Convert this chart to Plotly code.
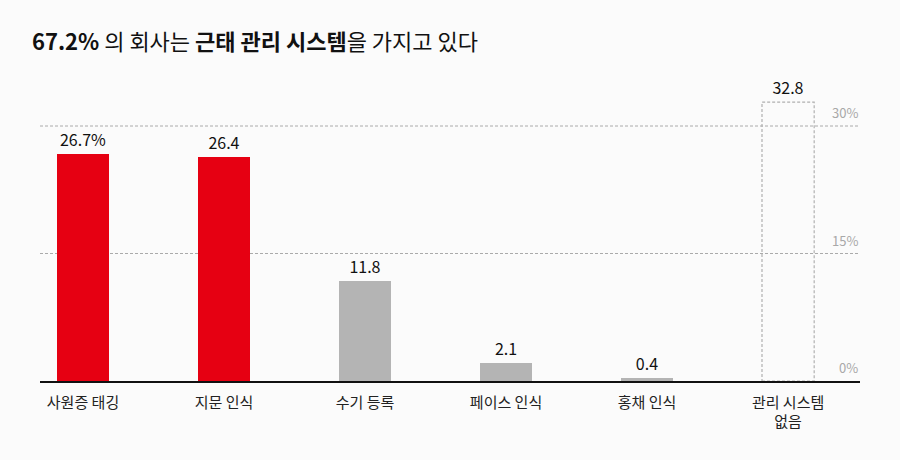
import plotly.graph_objects as go

# 근태 관리 방식별 비율 (%)
categories = ['사원증 태깅', '지문 인식', '수기 등록', '페이스 인식', '홍채 인식', '관리 시스템<br>없음']
values = [26.7, 26.4, 11.8, 2.1, 0.4, 32.8]
value_labels = ['26.7%', '26.4', '11.8', '2.1', '0.4', '32.8']
bar_colors = ['#e60012', '#e60012', '#b4b4b4', '#b4b4b4', '#b4b4b4', 'rgba(0,0,0,0)']
grid_values = [0, 15, 30]
grid_labels = ['0%', '15%', '30%']

FONT = 'Noto Sans CJK KR'
bar_w = 0.37
x_idx = list(range(len(categories)))

fig = go.Figure()
fig.add_trace(go.Bar(
    x=x_idx, y=values, width=bar_w,
    marker=dict(color=bar_colors, line=dict(width=0)),
    text=value_labels, textposition='outside', cliponaxis=False,
    textfont=dict(family=FONT, size=16, color='#111'),
    hoverinfo='skip', showlegend=False))

# '관리 시스템 없음' -> 점선 박스
last = len(values) - 1
fig.add_shape(type='rect', xref='x', yref='y',
              x0=x_idx[last] - bar_w / 2, x1=x_idx[last] + bar_w / 2,
              y0=0, y1=values[last],
              line=dict(color='#b0b0b0', width=1.2, dash='3px,2px'),
              fillcolor='rgba(0,0,0,0)')

# 가로 점선 격자 + 오른쪽 눈금 라벨
for gv, gl in zip(grid_values, grid_labels):
    if gv > 0:
        fig.add_shape(type='line', xref='paper', yref='y', x0=0, x1=1, y0=gv, y1=gv,
                      line=dict(color='#aaaaaa', width=1, dash='3px,2px'), layer='below')
    fig.add_annotation(xref='paper', yref='y', x=1, y=gv, text=gl, showarrow=False,
                       xanchor='right', yanchor='bottom', yshift=2,
                       font=dict(family=FONT, size=13, color='#a8a8a8'))

fig.add_annotation(xref='paper', yref='paper', x=-0.012, y=1, yshift=52,
                   xanchor='left', yanchor='middle', showarrow=False,
                   text='<b>67.2%</b> 의 회사는 <b>근태 관리 시스템</b>을 가지고 있다',
                   font=dict(family=FONT, size=22, color='#111'))

fig.update_layout(
    width=900, height=460,
    margin=dict(l=40, r=40, t=92, b=79),
    paper_bgcolor='#fbfbfb', plot_bgcolor='#fbfbfb',
    font=dict(family=FONT),
    xaxis=dict(range=[-0.305, 5.51], tickmode='array', tickvals=x_idx, ticktext=categories,
               showgrid=False, zeroline=False, showline=True, linecolor='#111', linewidth=1.5,
               ticks='', ticklabelstandoff=7, tickfont=dict(family=FONT, size=15, color='#222')),
    yaxis=dict(range=[0, 34], showgrid=False, zeroline=False, showticklabels=False),
    bargap=0,
)

fig.write_html('out.html', config={'displayModeBar': False},
               post_script="document.body.style.margin='0';document.body.style.background='#fbfbfb';")
